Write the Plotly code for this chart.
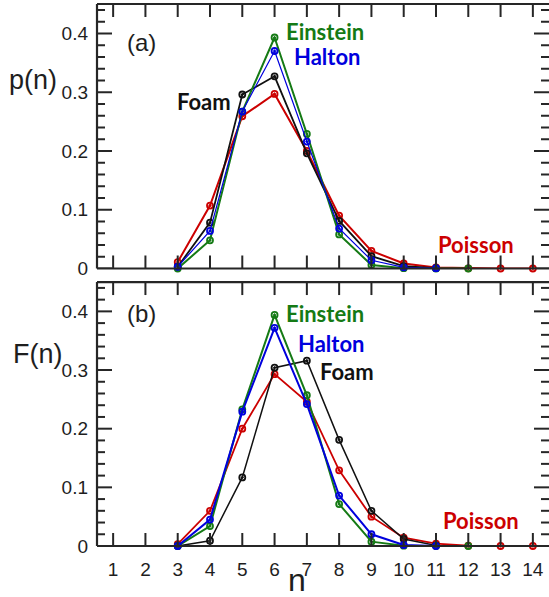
import plotly.graph_objects as go

# ---------------- data ----------------
n_foam = [3, 4, 5, 6, 7, 8, 9, 10, 11]
n_einstein = [3, 4, 5, 6, 7, 8, 9, 10, 11, 12]
n_halton = [3, 4, 5, 6, 7, 8, 9, 10, 11]
n_poisson = [3, 4, 5, 6, 7, 8, 9, 10, 11, 12, 13, 14]

# panel (a): p(n)
foam_a = [0.003, 0.078, 0.296, 0.327, 0.196, 0.081, 0.021, 0.004, 0.0005]
einstein_a = [0.0, 0.048, 0.267, 0.393, 0.229, 0.058, 0.006, 0.0006, 0.0, 0.0]
halton_a = [0.003, 0.064, 0.267, 0.370, 0.216, 0.068, 0.014, 0.002, 0.0005]
poisson_a = [0.011, 0.107, 0.259, 0.297, 0.200, 0.090, 0.030, 0.0085, 0.0017, 0.0003, 0.0, 0.0]

# panel (b): F(n)
foam_b = [0.0, 0.009, 0.117, 0.304, 0.316, 0.181, 0.060, 0.012, 0.001]
einstein_b = [0.0, 0.034, 0.233, 0.394, 0.257, 0.0715, 0.0074, 0.0006, 0.0, 0.0]
halton_b = [0.0, 0.045, 0.229, 0.372, 0.242, 0.086, 0.020, 0.0017, 0.0]
poisson_b = [0.003, 0.060, 0.200, 0.293, 0.246, 0.129, 0.050, 0.0142, 0.004, 0.0005, 0.0, 0.0]

x_ticks = list(range(1, 15))
y_ticks = [0, 0.1, 0.2, 0.3, 0.4]
y_ticktext = ["0", "0.1", "0.2", "0.3", "0.4"]
y_minor_ticks = [round(0.02 * i, 2) for i in range(23)]

# ---------------- style ----------------
GREEN = "#157a15"
BLUE = "#0000dd"
RED = "#cc0000"
BLACK = "#111111"
AXIS = "#262626"
TICKFONT = dict(family="Liberation Sans, Arial, sans-serif", size=19, color="#1e1e1e")
LABELFONT = "Lato, Open Sans, sans-serif"
X_RANGE = [0.5, 14.5]
Y_RANGE = [0, 0.45]

fig = go.Figure()

def add_series(x, y, color, width, xa, ya):
    fig.add_trace(go.Scatter(
        x=x, y=y, mode="lines+markers", xaxis=xa, yaxis=ya,
        line=dict(color=color, width=width),
        marker=dict(symbol="circle-open-dot", size=6, color=color, line=dict(width=1.8, color=color)),
        cliponaxis=False, showlegend=False, hoverinfo="skip"))

# panel (a)
add_series(n_poisson, poisson_a, RED, 2, "x", "y")
add_series(n_foam, foam_a, BLACK, 1.8, "x", "y")
add_series(n_einstein, einstein_a, GREEN, 2, "x", "y")
add_series(n_halton, halton_a, BLUE, 1.2, "x", "y")
# panel (b)
add_series(n_poisson, poisson_b, RED, 1.8, "x2", "y2")
add_series(n_foam, foam_b, BLACK, 1.5, "x2", "y2")
add_series(n_einstein, einstein_b, GREEN, 2, "x2", "y2")
add_series(n_halton, halton_b, BLUE, 2, "x2", "y2")

xaxis_common = dict(range=X_RANGE, tickvals=x_ticks, ticks="", showline=False,
                    showgrid=False, zeroline=False, fixedrange=True, automargin=False)
yaxis_common = dict(range=Y_RANGE, tickvals=y_ticks, ticktext=y_ticktext, ticks="",
                    showline=False, showgrid=False, zeroline=False, tickfont=TICKFONT,
                    ticklabelstandoff=8, automargin=False, fixedrange=True)

fig.update_layout(
    template="none",
    width=549, height=597,
    margin=dict(l=97, r=0, t=4, b=51),
    paper_bgcolor="white", plot_bgcolor="white",
    xaxis=dict(**xaxis_common, anchor="y", domain=[0, 1], showticklabels=False),
    yaxis=dict(**yaxis_common, anchor="x", domain=[0.512, 1.0]),
    xaxis2=dict(**xaxis_common, anchor="y2", domain=[0, 1], showticklabels=True,
                tickfont=dict(family="Liberation Sans, Arial, sans-serif", size=19, color="#1e1e1e"),
                ticklabelstandoff=10),
    yaxis2=dict(**yaxis_common, anchor="x2", domain=[0, 0.487]),
)

LINE = dict(color=AXIS, width=2)
for xa, ya in [("x", "y"), ("x2", "y2")]:
    # spines (left, bottom, top); the right spine lies just outside the picture
    for (x0, y0, x1, y1) in [(0, 0, 0, 1), (0, 0, 1, 0), (0, 1, 1, 1)]:
        fig.add_shape(type="line", xref=f"{xa} domain", yref=f"{ya} domain",
                      x0=x0, y0=y0, x1=x1, y1=y1, line=dict(color=AXIS, width=2.2))
    # x ticks, inward from bottom and top
    for t in x_ticks:
        for anchor, (p0, p1) in [(0, (0, 13)), (1, (-13, 0))]:
            fig.add_shape(type="line", xref=xa, yref=f"{ya} domain", x0=t, x1=t,
                          ysizemode="pixel", yanchor=anchor, y0=p0, y1=p1, line=LINE)
    # y ticks, inward from left and right (major long, minor short)
    for t in y_minor_ticks:
        ln = 15 if any(abs(t - m) < 1e-9 for m in y_ticks) else 8
        for anchor, (p0, p1) in [(0, (0, ln)), (1, (-ln, 0))]:
            fig.add_shape(type="line", xref=f"{xa} domain", yref=ya, y0=t, y1=t,
                          xsizemode="pixel", xanchor=anchor, x0=p0, x1=p1, line=LINE)

def label(text, x, y, color, xa, ya, size=22, bold=True, family=LABELFONT):
    fig.add_annotation(text=f"<b>{text}</b>" if bold else text, x=x, y=y, xref=xa, yref=ya,
                       showarrow=False, xanchor="center", yanchor="middle",
                       font=dict(family=family, size=size, color=color))

# series labels, panel (a)
label("Einstein", 7.57, 0.403, GREEN, "x", "y")
label("Halton", 7.62, 0.3615, BLUE, "x", "y")
label("Foam", 3.80, 0.284, BLACK, "x", "y")
label("Poisson", 12.25, 0.040, RED, "x", "y")
label("(a)", 1.88, 0.384, "#1e1e1e", "x", "y", size=24, bold=False,
      family="Liberation Sans, Arial, sans-serif")
# series labels, panel (b)
label("Einstein", 7.57, 0.396, GREEN, "x2", "y2")
label("Halton", 7.74, 0.345, BLUE, "x2", "y2")
label("Foam", 8.25, 0.298, BLACK, "x2", "y2")
label("Poisson", 12.39, 0.044, RED, "x2", "y2")
label("(b)", 1.89, 0.396, "#1e1e1e", "x2", "y2", size=24, bold=False,
      family="Liberation Sans, Arial, sans-serif")

# axis titles
AXTITLE = dict(family="Liberation Sans, Arial, sans-serif", size=27, color="#1e1e1e")
fig.add_annotation(text="p(n)", x=-0.141, y=0.859, xref="paper", yref="paper",
                   showarrow=False, xanchor="center", yanchor="middle", font=AXTITLE)
fig.add_annotation(text="F(n)", x=-0.131, y=0.354, xref="paper", yref="paper",
                   showarrow=False, xanchor="center", yanchor="middle", font=AXTITLE)
fig.add_annotation(text="n", x=0.4425, y=-0.062, xref="paper", yref="paper",
                   showarrow=False, xanchor="center", yanchor="middle",
                   font=dict(family="Liberation Sans, Arial, sans-serif", size=32, color="#1e1e1e"))

fig.write_html("out.html", config={"displayModeBar": False})
